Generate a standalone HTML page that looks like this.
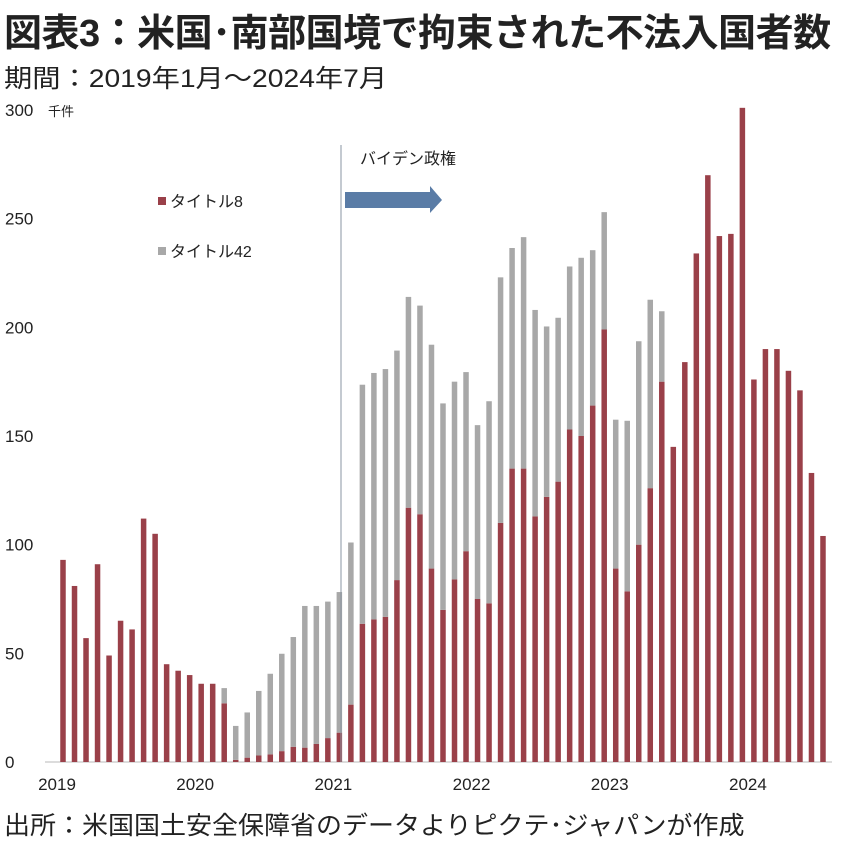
<!DOCTYPE html>
<html><head><meta charset="utf-8"><style>
body{margin:0;background:#fff;width:847px;height:838px;overflow:hidden;font-family:"Liberation Sans","Noto Sans CJK JP",sans-serif;}
.t{position:absolute;white-space:nowrap;color:#222;transform-origin:0 0;}
</style></head><body>
<div class="t" style="left:4px;top:2px;font-size:38px;font-weight:bold;letter-spacing:-0.5px;transform:scaleX(1.0);">図表3：米国･南部国境で拘束された不法入国者数</div>
<div class="t" style="left:4px;top:59px;font-size:25px;transform:scaleX(1.13);">期間：2019年1月～2024年7月</div>
<div class="t" style="left:4px;top:806px;font-size:25px;transform:scaleX(1.04);">出所：米国国土安全保障省のデータよりピクテ･ジャパンが作成</div>
<svg id="c" width="847" height="838" style="position:absolute;left:0;top:0"></svg>
<script>
const months=["2019","2020","2021","2022","2023","2024"];
const yTicks=[0,50,100,150,200,250,300];
const title8=[93,81,57,91,49,65,61,112,105,45,42,40,
36,36,27,1,2,3,3.5,5,7,6.6,8.3,11,
13.5,26.4,63.6,65.6,66.8,83.7,117,114,89,70,84,97,
75,73,110,135,135,113,122,129,153,150,164,199,
89,78.5,100,126,175,145,184,234,270,242,243,301,
176,190,190,180,171,133,104];
const total=[93,81,57,91,49,65,61,112,105,45,42,40,
36,36,34,16.6,22.8,32.7,40.6,49.8,57.5,71.8,71.8,73.8,
78.2,101,173.6,179,180.8,189.3,214,210,192,165,175,179.4,
155,166,223,236.5,241.5,208,200.4,204.4,228,232,235.5,253,
157.5,157,193.6,212.7,207.4,145,184,234,270,242,243,301,
176,190,190,180,171,133,104];
const title42=total.map((t,i)=>Math.max(0,t-title8[i]));
const svg=document.getElementById('c');const NS='http://www.w3.org/2000/svg';
const y0=762,yMax=300,yTop=110,x0=63,step=11.515,bw=5.5;
const y=v=>y0-(v/yMax)*(y0-yTop);
const x=i=>x0+i*step;
function mk(tag,a){const e=document.createElementNS(NS,tag);for(const k in a)e.setAttribute(k,a[k]);svg.appendChild(e);return e;}
yTicks.forEach(v=>{const t=mk('text',{x:5,y:y(v)+6,'font-size':17,fill:'#222','font-family':'Liberation Sans, sans-serif'});t.textContent=v;

});
const u=mk('text',{x:48,y:116,'font-size':13,fill:'#222','font-family':'Liberation Sans, Noto Sans CJK JP, sans-serif'});u.textContent='千件';


const ax=mk('line',{x1:45,x2:832,y1:y0,y2:y0,stroke:'#d0d0d0','stroke-width':1.5});


title8.forEach((v,i)=>{
 const r=mk('rect',{x:x(i)-bw/2,y:y(v),width:bw,height:y0-y(v),fill:'#9a4049'});
 
 
 if(title42[i]>0){const g=mk('rect',{x:x(i)-bw/2,y:y(v+title42[i]),width:bw,height:y(v)-y(v+title42[i]),fill:'#a8a8a8'});
 
 }
});
months.forEach((m,k)=>{const t=mk('text',{x:x(k*12)-6,y:790,'font-size':17,fill:'#222','text-anchor':'middle','font-family':'Liberation Sans, sans-serif'});t.textContent=m;

});
const vl=mk('line',{x1:341,x2:341,y1:145,y2:y0,stroke:'#8a96a3','stroke-width':1});


const ar=mk('polygon',{points:'345,192 430,192 430,186 442,200 430,213 430,208 345,208',fill:'#5a7ca6'});


const bt=mk('text',{x:360,y:164,'font-size':16,fill:'#222','font-family':'Liberation Sans, Noto Sans CJK JP, sans-serif'});bt.textContent='バイデン政権';


const l1=mk('rect',{x:158,y:197,width:8,height:8,fill:'#9a4049'});


const lt1=mk('text',{x:170,y:207,'font-size':16,fill:'#222','font-family':'Liberation Sans, Noto Sans CJK JP, sans-serif'});lt1.textContent='タイトル8';


const l2=mk('rect',{x:158,y:247,width:8,height:8,fill:'#a8a8a8'});


const lt2=mk('text',{x:170,y:257,'font-size':16,fill:'#222','font-family':'Liberation Sans, Noto Sans CJK JP, sans-serif'});lt2.textContent='タイトル42';


</script>
</body></html>
